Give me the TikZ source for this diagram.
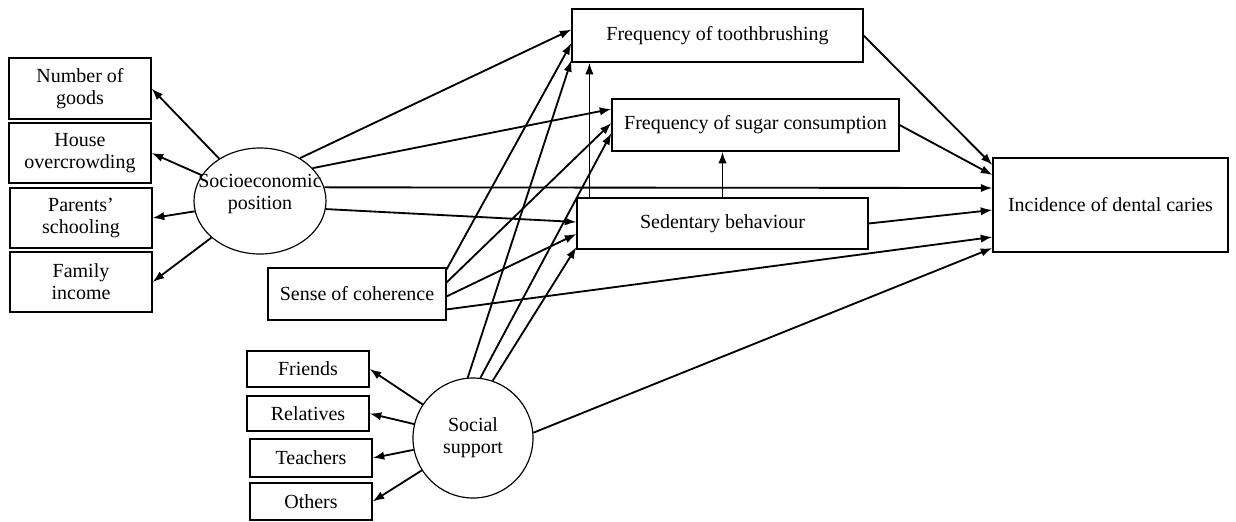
\documentclass[tikz,border=0pt]{standalone}
\usepackage{fontspec}
\setmainfont{Liberation Serif}
\usetikzlibrary{arrows.meta,shapes.geometric,calc}

\begin{document}
\begin{tikzpicture}[x=0.6pt,y=-0.6pt,
  box/.style={draw,line width=0.7pt,inner sep=0pt,align=center},
  arr/.style={-{Latex[length=7pt,width=5pt]},line width=1.1pt}]

  \fontsize{12}{13.2}\selectfont
  \useasboundingbox (0,0) rectangle (1236,521);

  %% latent variables
  \node[box,ellipse,minimum width=79.2pt,minimum height=63.6pt,
    label={[align=center,yshift=4pt]center:Socioeconomic\\position}] (sep) at (260,201) {};
  \node[box,circle,minimum size=72pt] (sup) at (473,438) {Social\\support};

  %% indicators
  \node[box,minimum width=85.2pt,minimum height=36.6pt] (goods) at (80,88.5) {Number of\\goods};
  \node[box,minimum width=85.2pt,minimum height=36pt] (house) at (80,153) {House\\overcrowding};
  \node[box,minimum width=85.2pt,minimum height=36pt] (school) at (81,218) {Parents'\\schooling};
  \node[box,minimum width=85.2pt,minimum height=36pt] (income) at (81,282) {Family\\income};

  \node[box,minimum width=73.2pt,minimum height=21.6pt] (friends) at (308,369) {Friends};
  \node[box,minimum width=73.2pt,minimum height=21pt] (relat) at (308,413.5) {Relatives};
  \node[box,minimum width=73.2pt,minimum height=22.8pt] (teach) at (311,458) {Teachers};
  \node[box,minimum width=73.2pt,minimum height=22.2pt] (others) at (311,501.5) {Others};

  %% observed variables
  \node[box,minimum width=106.8pt,minimum height=31.2pt] (coh) at (357,294) {Sense of coherence};
  \node[box,minimum width=174.6pt,minimum height=31.8pt] (tb) at (717.5,35.5) {Frequency of toothbrushing};
  \node[box,minimum width=172.2pt,minimum height=31.2pt] (sugar) at (755.5,125) {Frequency of sugar consumption};
  \node[box,minimum width=174.6pt,minimum height=30.6pt] (sed) at (722.5,223.5) {Sedentary behaviour};
  \node[box,minimum width=141pt,minimum height=56.4pt] (inc) at (1110.5,205) {Incidence of dental caries};

  %% measurement part
  \foreach \n in {goods,house,school,income}
    \draw[arr] (sep) -- (\n.east);
  \foreach \n in {friends,relat,teach,others}
    \draw[arr] (sup) -- (\n.east);

  %% socioeconomic position
  \draw[arr] (sep.47) -- ($(tb.west)+(0,-6)$);
  \draw[arr] (sep.32) -- ($(sugar.west)+(0,-16)$);
  \draw[arr] (sep.12) -- ($(inc.west)+(0,-17)$);
  \draw[arr] (sep.-7) -- ($(sed.west)+(0,-1.5)$);

  %% sense of coherence
  \draw[arr] ($(coh.north east)+(0,2)$) -- ($(tb.west)+(0,7.5)$);
  \draw[arr] ($(coh.north east)+(0,15)$) -- ($(sugar.west)+(0,-2)$);
  \draw[arr] ($(coh.north east)+(0,29)$) -- ($(sed.west)+(0,10.5)$);
  \draw[arr] ($(coh.north east)+(0,42)$) -- ($(inc.west)+(0,32)$);

  %% social support
  \draw[arr] (sup.95) -- ($(tb.west)+(0,24.5)$);
  \draw[arr] (sup.83) -- ($(sugar.west)+(0,8)$);
  \draw[arr] (sup.71) -- ($(sed.west)+(0,23.5)$);
  \draw[arr] (sup.5) -- ($(inc.west)+(0,43)$);

  %% behaviours -> caries
  \draw[arr] (tb.east) -- ($(inc.west)+(0,-40)$);
  \draw[arr] (sugar.east) -- ($(inc.west)+(0,-30)$);
  \draw[arr] (sed.east) -- ($(inc.west)+(0,5)$);

  %% sedentary behaviour -> habits
  \coordinate (up) at ($(sed.north west)+(13,0)$);
  \draw[arr] (up) -- (up |- tb.south);
  \draw[arr] (sed.north) -- (sed.north |- sugar.south);
\end{tikzpicture}
\end{document}
